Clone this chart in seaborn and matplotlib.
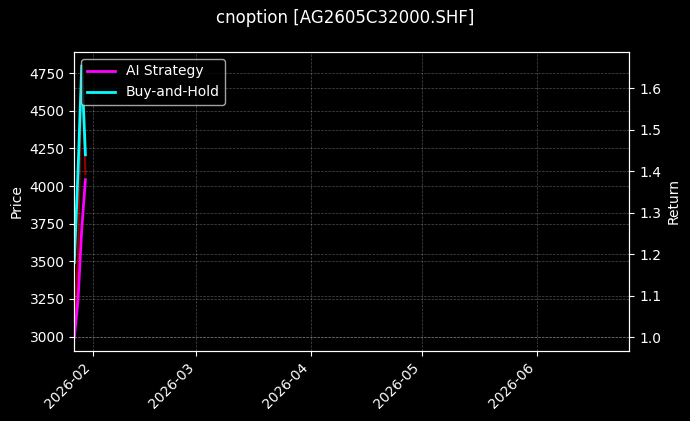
import matplotlib
matplotlib.use("Agg")
import pandas as pd
import numpy as np
import seaborn as sns
import matplotlib.pyplot as plt
import matplotlib.dates as mdates

#%%
dates = ["2026-01-27", "2026-01-28", "2026-01-29", "2026-01-30"]
price = [2995, 3560, 4800, 4080]
ai_strategy = [1.00, 1.09, 1.26, 1.38]
buy_hold = [1.18, 1.40, 1.655, 1.44]
x_start, x_end = "2026-01-27", "2026-06-26"

df = pd.DataFrame({"date": pd.to_datetime(dates), "price": price,
                   "ai": ai_strategy, "bh": buy_hold})

#%%
plt.style.use("dark_background")
fig, ax1 = plt.subplots(figsize=(6.9, 4.21), dpi=100)
fig.subplots_adjust(left=0.1077, right=0.912, top=0.8765, bottom=0.1663)

sns.lineplot(data=df, x="date", y="price", ax=ax1, color="red", alpha=0.6, linewidth=1.5)
ax1.set_ylabel("Price")
ax1.set_xlabel("")
ax1.grid(True, linestyle="--", linewidth=0.5, alpha=0.3)

ax2 = ax1.twinx()
sns.lineplot(data=df, x="date", y="ai", ax=ax2, color="magenta", linewidth=2, label="AI Strategy")
sns.lineplot(data=df, x="date", y="bh", ax=ax2, color="cyan", linewidth=2, label="Buy-and-Hold")
ax2.set_ylabel("Return")
ax2.set_xlabel("")
ax2.grid(True, linestyle="--", linewidth=0.5, alpha=0.3)
ax2.legend(loc="upper left")

ax1.set_xlim(pd.Timestamp(x_start), pd.Timestamp(x_end))
ax1.xaxis.set_major_locator(mdates.MonthLocator())
ax1.xaxis.set_major_formatter(mdates.DateFormatter("%Y-%m"))
plt.setp(ax1.get_xticklabels(), rotation=45, ha="right")

fig.suptitle("cnoption [AG2605C32000.SHF]", fontsize=12, y=0.957, va="center")

fig.savefig("out.png", dpi=100)
